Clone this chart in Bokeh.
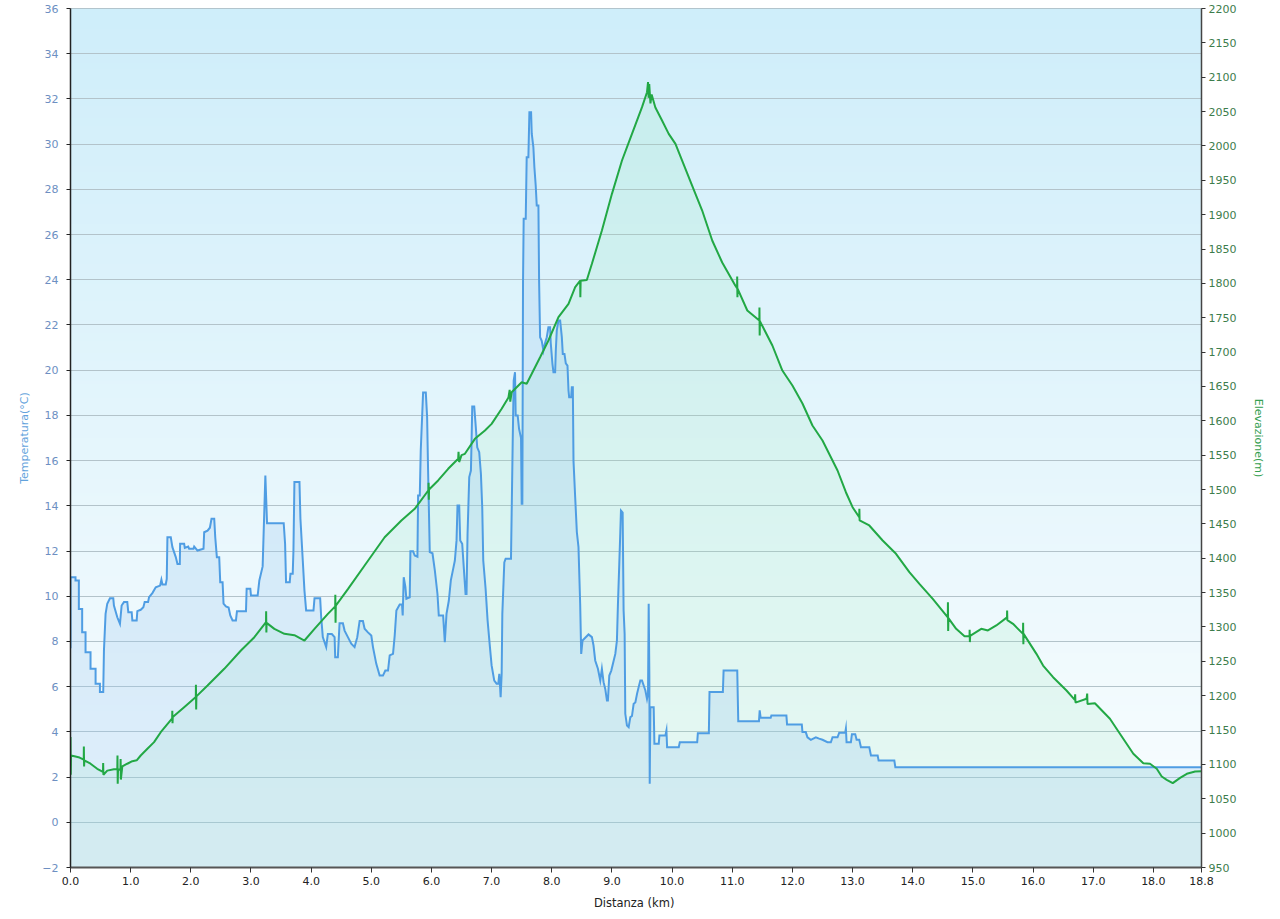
import numpy as np
from bokeh.plotting import figure
from bokeh.models import Range1d, LinearAxis, FixedTicker, PrintfTickFormatter
from bokeh.embed import file_html
from bokeh.resources import INLINE

# ---------------- data ----------------
temp_km = [0.0, 0.0, 0.083, 0.083, 0.139, 0.139, 0.194, 0.194, 0.25, 0.25, 0.333, 0.333, 0.417, 0.417,
           0.489, 0.489, 0.544, 0.556, 0.583, 0.611, 0.656, 0.711, 0.722, 0.778, 0.822, 0.85, 0.889, 0.944,
           0.961, 1.017, 1.028, 1.1, 1.111, 1.167, 1.211, 1.233, 1.289, 1.306, 1.361, 1.417, 1.489, 1.511,
           1.528, 1.583, 1.6, 1.611, 1.667, 1.694, 1.75, 1.778, 1.817, 1.822, 1.889, 1.9, 1.956, 1.972,
           2.044, 2.056, 2.111, 2.211, 2.222, 2.278, 2.317, 2.344, 2.389, 2.406, 2.433, 2.472, 2.489, 2.528,
           2.544, 2.583, 2.628, 2.656, 2.694, 2.75, 2.767, 2.917, 2.928, 2.989, 3.0, 3.111, 3.139, 3.194,
           3.239, 3.267, 3.544, 3.567, 3.583, 3.644, 3.656, 3.694, 3.706, 3.722, 3.806, 3.822, 3.861, 3.889,
           3.917, 4.039, 4.056, 4.15, 4.167, 4.194, 4.25, 4.278, 4.344, 4.39, 4.4, 4.444, 4.472, 4.528,
           4.556, 4.611, 4.667, 4.722, 4.767, 4.806, 4.861, 4.889, 4.944, 5.0, 5.028, 5.083, 5.139, 5.194,
           5.233, 5.278, 5.306, 5.361, 5.389, 5.417, 5.472, 5.511, 5.522, 5.539, 5.567, 5.583, 5.639, 5.65,
           5.694, 5.722, 5.767, 5.778, 5.806, 5.822, 5.861, 5.906, 5.928, 5.944, 5.972, 6.017, 6.056, 6.1,
           6.122, 6.194, 6.222, 6.25, 6.289, 6.322, 6.361, 6.389, 6.417, 6.433, 6.461, 6.478, 6.511, 6.544,
           6.567, 6.583, 6.6, 6.628, 6.656, 6.667, 6.678, 6.711, 6.733, 6.761, 6.794, 6.822, 6.844, 6.861,
           6.9, 6.933, 6.972, 7.0, 7.044, 7.083, 7.111, 7.128, 7.15, 7.167, 7.178, 7.211, 7.233, 7.322,
           7.333, 7.35, 7.367, 7.389, 7.4, 7.433, 7.456, 7.489, 7.5, 7.511, 7.517, 7.522, 7.533, 7.567,
           7.583, 7.611, 7.628, 7.656, 7.667, 7.694, 7.711, 7.733, 7.75, 7.778, 7.789, 7.806, 7.833, 7.861,
           7.889, 7.917, 7.944, 7.972, 7.983, 8.011, 8.028, 8.056, 8.067, 8.083, 8.111, 8.139, 8.167, 8.183,
           8.211, 8.233, 8.261, 8.278, 8.289, 8.322, 8.333, 8.35, 8.361, 8.389, 8.417, 8.444, 8.472, 8.489,
           8.511, 8.611, 8.667, 8.694, 8.722, 8.767, 8.806, 8.833, 8.861, 8.889, 8.917, 8.933, 8.956, 8.989,
           9.056, 9.083, 9.1, 9.122, 9.139, 9.15, 9.178, 9.194, 9.211, 9.222, 9.25, 9.278, 9.306, 9.333,
           9.361, 9.389, 9.417, 9.444, 9.472, 9.5, 9.528, 9.556, 9.583, 9.6, 9.611, 9.622, 9.628, 9.639,
           9.694, 9.706, 9.778, 9.789, 9.889, 9.906, 9.917, 10.111, 10.128, 10.417, 10.428, 10.611, 10.622,
           10.844, 10.856, 11.083, 11.1, 11.444, 11.456, 11.472, 11.639, 11.65, 11.9, 11.911, 12.156, 12.167,
           12.222, 12.25, 12.306, 12.389, 12.444, 12.5, 12.583, 12.639, 12.667, 12.75, 12.778, 12.878, 12.889,
           12.9, 12.972, 12.989, 13.044, 13.067, 13.111, 13.139, 13.278, 13.306, 13.417, 13.433, 13.694,
           13.711, 18.8]
temp_c = [7.7, 10.84, 10.84, 10.7, 10.7, 9.44, 9.44, 8.41, 8.41, 7.52, 7.52, 6.79, 6.79, 6.13,
          6.13, 5.76, 5.76, 7.6, 9.22, 9.67, 9.91, 9.91, 9.59, 9.07, 8.78, 9.59, 9.74, 9.74,
          9.29, 9.29, 8.93, 8.93, 9.34, 9.4, 9.51, 9.74, 9.74, 9.96, 10.14, 10.4, 10.47, 10.73,
          10.52, 10.52, 10.77, 12.61, 12.61, 12.17, 11.73, 11.43, 11.43, 12.32, 12.32, 12.14, 12.2, 12.1,
          12.1, 12.2, 12.02, 12.1, 12.83, 12.9, 13.03, 13.43, 13.43, 12.61, 11.73, 11.73, 10.62, 10.62,
          9.67, 9.55, 9.5, 9.15, 8.93, 8.93, 9.34, 9.34, 10.33, 10.33, 10.03, 10.03, 10.7, 11.32,
          15.34, 13.23, 13.23, 12.32, 10.62, 10.62, 11.0, 11.0, 12.02, 15.05, 15.05, 13.43, 11.58, 10.25,
          9.37, 9.37, 9.91, 9.91, 9.07, 8.19, 7.75, 8.33, 8.33, 8.19, 7.3, 7.3, 8.8, 8.8,
          8.48, 8.19, 7.9, 7.75, 8.19, 8.9, 8.9, 8.56, 8.4, 8.26, 7.75, 7.01, 6.49, 6.49,
          6.71, 6.71, 7.38, 7.45, 8.26, 9.37, 9.63, 9.63, 9.15, 10.84, 10.4, 9.89, 9.95, 11.99,
          11.99, 11.8, 11.75, 14.46, 14.46, 16.45, 19.01, 19.01, 17.92, 15.56, 11.95, 11.9, 11.14, 10.1,
          9.15, 9.15, 7.97, 9.22, 9.81, 10.7, 11.21, 11.58, 12.47, 14.01, 14.01, 12.47, 12.32, 11.0,
          10.1, 10.1, 12.76, 15.27, 15.56, 16.89, 18.39, 18.39, 17.63, 16.59, 16.37, 15.42, 13.94, 11.58,
          10.33, 8.93, 7.75, 6.94, 6.27, 6.13, 6.13, 6.57, 5.53, 6.57, 9.22, 11.5, 11.66, 11.66,
          13.65, 16.74, 19.54, 19.91, 18.0, 18.0, 17.41, 17.0, 14.09, 14.09, 19.4, 23.9, 26.7, 26.7,
          29.42, 29.42, 31.41, 31.41, 30.46, 29.87, 28.98, 28.17, 27.29, 27.29, 23.97, 21.46, 21.3, 20.87,
          21.2, 21.46, 21.9, 21.9, 21.2, 20.28, 19.91, 19.91, 20.87, 21.75, 22.2, 22.2, 21.46, 20.72,
          20.72, 20.3, 20.2, 19.1, 18.8, 18.8, 19.25, 19.25, 16.0, 14.38, 12.83, 12.17, 9.67, 7.45,
          8.04, 8.31, 8.19, 7.82, 7.16, 6.79, 6.27, 6.79, 6.2, 5.9, 5.39, 5.39, 6.49, 6.71,
          7.45, 8.04, 9.67, 11.43, 12.83, 13.79, 13.7, 9.37, 8.34, 4.8, 4.28, 4.21, 4.65, 4.7,
          5.24, 5.3, 5.68, 5.98, 6.27, 6.27, 6.05, 5.83, 5.46, 5.7, 9.67, 6.5, 1.7, 5.09,
          5.09, 3.47, 3.47, 3.84, 3.84, 4.06, 3.32, 3.32, 3.54, 3.54, 3.94, 3.94, 5.76,
          5.76, 6.71, 6.71, 4.47, 4.47, 4.95, 4.62, 4.62, 4.72, 4.72, 4.33, 4.33, 3.99,
          3.99, 3.76, 3.65, 3.76, 3.7, 3.65, 3.54, 3.54, 3.76, 3.76, 3.96, 3.96, 4.14,
          3.54, 3.54, 3.9, 3.9, 3.65, 3.65, 3.32, 3.32, 2.95, 2.95, 2.73, 2.73,
          2.44, 2.44]

elev_km = [0.0, 0.0, 0.004, 0.008, 0.083, 0.15, 0.22, 0.222, 0.226, 0.23, 0.333, 0.444, 0.54, 0.543,
           0.547, 0.611, 0.722, 0.778, 0.781, 0.785, 0.79, 0.83, 0.833, 0.837, 0.861, 0.944, 1.028, 1.1,
           1.167, 1.278, 1.389, 1.5, 1.69, 1.692, 1.696, 1.7, 1.889, 2.083, 2.085, 2.089, 2.093, 2.278,
           2.556, 2.833, 3.056, 3.25, 3.252, 3.256, 3.26, 3.389, 3.556, 3.722, 3.889, 4.056, 4.278, 4.4,
           4.402, 4.406, 4.41, 4.611, 4.889, 5.222, 5.5, 5.722, 5.95, 5.952, 5.956, 5.96, 6.111, 6.278,
           6.444, 6.45, 6.46, 6.5, 6.556, 6.722, 6.889, 7.0, 7.167, 7.28, 7.3, 7.31, 7.333, 7.5,
           7.583, 7.667, 7.806, 7.944, 8.111, 8.278, 8.389, 8.472, 8.475, 8.48, 8.583, 8.667, 8.833, 9.0,
           9.167, 9.333, 9.5, 9.583, 9.6, 9.61, 9.62, 9.64, 9.66, 9.722, 9.833, 9.944, 10.056, 10.167,
           10.333, 10.5, 10.667, 10.833, 11.05, 11.08, 11.082, 11.086, 11.09, 11.25, 11.45, 11.452, 11.456,
           11.46, 11.667, 11.833, 12.0, 12.167, 12.333, 12.5, 12.75, 12.889, 13.0, 13.111, 13.113, 13.117,
           13.278, 13.5, 13.722, 13.944, 14.111, 14.333, 14.583, 14.585, 14.589, 14.593, 14.722, 14.861,
           14.944, 14.946, 14.95, 14.954, 15.139, 15.25, 15.389, 15.567, 15.569, 15.573, 15.667, 15.833,
           15.835, 15.839, 15.843, 16.056, 16.167, 16.333, 16.556, 16.694, 16.7, 16.705, 16.889, 16.9,
           16.905, 17.028, 17.278, 17.444, 17.667, 17.833, 17.944, 18.056, 18.139, 18.222, 18.322, 18.444,
           18.556, 18.694, 18.8]
elev_m = [1113, 1140, 1085, 1113, 1111.5, 1110, 1107, 1126, 1097, 1106, 1101, 1093.6, 1089, 1102,
          1085, 1091, 1093, 1093, 1113, 1072, 1093, 1092, 1108, 1078, 1097, 1101, 1104.7, 1106,
          1113, 1122.7, 1132.4, 1146.9, 1167, 1178, 1160, 1169, 1183.3, 1198, 1216, 1180, 1199, 1214.8,
          1239.1, 1265.8, 1285.1, 1307, 1323, 1292, 1306, 1297.3, 1290, 1288, 1280.3, 1297.3, 1319, 1330,
          1347, 1306, 1331, 1355, 1389.5, 1430.6, 1454.9, 1472, 1499, 1510, 1485, 1500, 1513.2, 1530.2,
          1544.7, 1555, 1540, 1550, 1552, 1573.8, 1585.9, 1595.6, 1617.5, 1634, 1645, 1628, 1641.6, 1656,
          1654, 1668.4, 1692.6, 1716.9, 1750.8, 1770.3, 1794.4, 1804, 1780, 1804, 1805, 1828.5, 1876.9, 1930.3,
          1978.8, 2017.6, 2056.4, 2078.2, 2093, 2070, 2090, 2062, 2075, 2056, 2037, 2017.6, 2003, 1978.8,
          1942.4, 1906, 1862.4, 1830.4, 1796.9, 1793, 1810, 1780, 1792, 1760.5, 1746, 1765, 1724,
          1745, 1709.6, 1673.2, 1651.4, 1625.2, 1593.2, 1571.4, 1527.7, 1496.1, 1474.3, 1459.7, 1472, 1455,
          1447.7, 1425.9, 1406.5, 1379.7, 1362.8, 1341, 1314, 1336, 1294, 1313, 1297.3, 1286.6,
          1286.6, 1296, 1278, 1287, 1297.3, 1295, 1302.2, 1314, 1324, 1310, 1304.6, 1290,
          1306, 1275, 1290, 1260.9, 1243.9, 1226.9, 1207.6, 1194, 1202, 1190, 1195.5, 1203,
          1188, 1189.1, 1166.4, 1144.6, 1115.5, 1101.8, 1100.9, 1093.6, 1082.4, 1077.6, 1072.7, 1080.5,
          1086.3, 1089.7, 1090.1]

x_ticks = [float(i) for i in range(19)] + [18.8]
temp_ticks = list(range(-2, 37, 2))
elev_ticks = list(range(950, 2201, 50))

X_MIN, X_MAX = 0.0, 18.8
T_MIN, T_MAX = -2, 36
E_MIN, E_MAX = 950, 2200

FONT = "DejaVu Sans"

# ---------------- figure ----------------
p = figure(width=1276, height=916, x_range=Range1d(X_MIN, X_MAX), y_range=Range1d(T_MIN, T_MAX),
           output_backend="svg", toolbar_location=None,
           min_border_left=70, min_border_right=75, min_border_top=8, min_border_bottom=49)
p.background_fill_color = "#ffffff"
p.border_fill_color = "#ffffff"
p.outline_line_color = "#a9b6bd"

# background vertical gradient
n = 300
frac = np.linspace(0.0, 1.0, n)[:, None]
bottom_rgb = np.array([251, 254, 255], dtype=float)[None, :]
top_rgb = np.array([207, 238, 250], dtype=float)[None, :]
cols = bottom_rgb * (1 - frac) + top_rgb * frac
img = np.empty((n, 1), dtype=np.uint32)
view = img.view(dtype=np.uint8).reshape((n, 1, 4))
view[:, 0, 0] = cols[:, 0]
view[:, 0, 1] = cols[:, 1]
view[:, 0, 2] = cols[:, 2]
view[:, 0, 3] = 255
p.image_rgba(image=[img], x=X_MIN, y=T_MIN, dw=X_MAX - X_MIN, dh=T_MAX - T_MIN, level="image")

p.extra_y_ranges = {"elev": Range1d(E_MIN, E_MAX)}

# area fills
p.varea(x=elev_km, y1=elev_m, y2=E_MIN, y_range_name="elev", fill_color="#8fe8b4", fill_alpha=0.16)
p.varea(x=temp_km, y1=temp_c, y2=T_MIN, fill_color="#9cc6f0", fill_alpha=0.27)

# lines
p.line(temp_km, temp_c, line_color="#4f9de3", line_width=2, line_join="miter")
p.line(elev_km, elev_m, y_range_name="elev", line_color="#22a845", line_width=2)

# grid
p.xgrid.visible = False
p.ygrid.ticker = FixedTicker(ticks=temp_ticks)
p.ygrid.grid_line_color = "#b3c3ca"
p.ygrid.grid_line_width = 1

# x axis
xa = p.xaxis[0]
xa.ticker = FixedTicker(ticks=x_ticks)
xa.formatter = PrintfTickFormatter(format="%.1f")
xa.axis_label = "Distanza  (km)"
xa.axis_line_color = "#555555"
xa.axis_line_width = 2
xa.major_tick_in = 0
xa.major_tick_out = 5
xa.minor_tick_out = 0
xa.minor_tick_in = 0
xa.major_tick_line_color = "#333333"
xa.major_label_text_font = FONT
xa.major_label_text_font_size = "11px"
xa.major_label_text_color = "#222222"
xa.major_label_standoff = 4
xa.axis_label_text_font = FONT
xa.axis_label_text_font_size = "11.5px"
xa.axis_label_text_font_style = "normal"
xa.axis_label_text_color = "#222222"
xa.axis_label_standoff = 8

# left axis
ya = p.yaxis[0]
ya.ticker = FixedTicker(ticks=temp_ticks)
ya.axis_label = "Temperatura(°C)"
ya.axis_line_color = "#222222"
ya.axis_line_width = 1.5
ya.major_tick_in = 0
ya.major_tick_out = 4
ya.minor_tick_out = 0
ya.minor_tick_in = 0
ya.major_tick_line_color = "#222222"
ya.major_label_text_font = FONT
ya.major_label_text_font_size = "11px"
ya.major_label_text_color = "#6d8fc2"
ya.major_label_standoff = 8
ya.axis_label_text_font = FONT
ya.axis_label_text_font_size = "11px"
ya.axis_label_text_font_style = "normal"
ya.axis_label_text_color = "#62a2dc"
ya.axis_label_standoff = 8

# right axis
ra = LinearAxis(y_range_name="elev", ticker=FixedTicker(ticks=elev_ticks), axis_label="Elevazione(m)")
ra.axis_line_color = "#444444"
ra.axis_line_width = 1.5
ra.major_tick_in = 0
ra.major_tick_out = 4
ra.minor_tick_out = 0
ra.minor_tick_in = 0
ra.major_tick_line_color = "#333333"
ra.major_label_text_font = FONT
ra.major_label_text_font_size = "11px"
ra.major_label_text_color = "#3c7d4c"
ra.major_label_standoff = 3
ra.axis_label_text_font = FONT
ra.axis_label_text_font_size = "11px"
ra.axis_label_text_font_style = "normal"
ra.axis_label_text_color = "#35a050"
ra.axis_label_standoff = 13
p.add_layout(ra, "right")

open("out.html", "w").write(file_html(p, INLINE))
